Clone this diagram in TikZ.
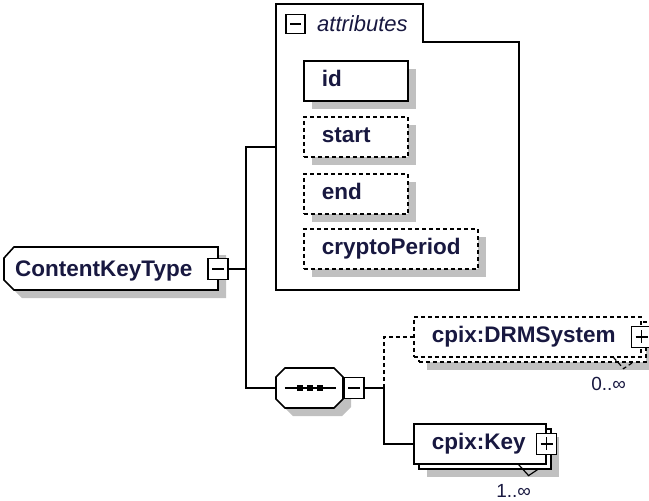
\documentclass[tikz,border=0pt]{standalone}
\usepackage{fontspec}
\setmainfont{Liberation Sans}
\usetikzlibrary{calc,shadows}
\definecolor{labelnavy}{RGB}{24,24,64}
\definecolor{shadowgray}{RGB}{192,192,192}
\def\boxfont{\fontsize{22.5}{25}\selectfont\bfseries}
\def\grpfont{\fontsize{22}{25}\selectfont\itshape}
\def\occfont{\fontsize{19}{21}\selectfont}

\tikzset{
	conn/.style={line width=1.6pt},
	optline/.style={dash pattern=on 4pt off 3pt},
	shadowed/.style={general shadow={draw=none, fill=shadowgray, shadow xshift=8pt, shadow yshift=-8pt}},
	farshadowed/.style={general shadow={draw=none, fill=shadowgray, shadow xshift=13pt, shadow yshift=-13pt}},
	stacked/.style={copy shadow={shadow xshift=5pt, shadow yshift=-5pt}},
	elembox/.style={draw, fill=white, line width=1.6pt, font=\boxfont, text=labelnavy, anchor=north west, inner xsep=18pt, inner ysep=10pt, text height=15.5pt, text depth=4.5pt, align=left, text width=#1},
	togglebox/.style={draw, fill=white, line width=1.4pt, minimum width=20pt, minimum height=21pt, inner sep=0pt},
	minusbox/.style={togglebox, path picture={\draw[line width=1.4pt] ([xshift=4pt]path picture bounding box.west) -- ([xshift=-4pt]path picture bounding box.east);}},
	plusbox/.style={togglebox, path picture={\draw[line width=1.4pt] ([xshift=4pt]path picture bounding box.west) -- ([xshift=-4pt]path picture bounding box.east) ([yshift=-4pt]path picture bounding box.north) -- ([yshift=4pt]path picture bounding box.south);}},
	occurs/.style={font=\occfont, text=labelnavy, inner sep=0pt}
}

\begin{document}
\begin{tikzpicture}[x=1pt,y=-1pt]
	%%%%% START %%%%%
	\useasboundingbox (0,0) rectangle (649,501);

	% root element
	\draw[conn, fill=white, shadowed] (4,258) -- (14,247) -- (218,247) -- (218,290) -- (14,290) -- (4,280) -- cycle;
	\node[font=\boxfont, text=labelnavy, anchor=base west, inner sep=0pt] (ckt) at (15,276) {ContentKeyType};
	\node[minusbox] (ckt-pm) at (218,269) {};

	% attributes group
	\draw[conn] (276,4) -- (423,4) -- (423,42) -- (519,42) -- (519,290) -- (276,290) -- cycle;
	\coordinate (attrs) at (276,147);
	\node[minusbox, minimum width=19pt, minimum height=19pt] (attrs-pm) at (295.5,24) {};
	\node[font=\grpfont, text=labelnavy, anchor=base west, inner sep=0pt] (attrs-lbl) at (317,31) {attributes};

	\node[elembox=68pt, shadowed] (attr-id) at (303,60) {id};
	\node[elembox=68pt, shadowed, optline] (attr-start) at (303,116) {start};
	\node[elembox=68pt, shadowed, optline] (attr-end) at (303,173) {end};
	\node[elembox=138pt, shadowed, optline] (attr-crypto) at (303,228) {cryptoPeriod};

	% sequence
	\draw[conn, fill=white, shadowed] (276,377) -- (285,368) -- (334,368) -- (343,377) -- (343,399) -- (334,408) -- (285,408) -- (276,399) -- cycle;
	\node[minimum width=67pt, minimum height=40pt, inner sep=0pt] (seq) at (309.5,388) {};
	\draw[conn] ([xshift=9pt]seq.west) -- ([xshift=-7pt]seq.east);
	\foreach \dx in {-10,0,10}
		\fill ($(seq.center)+(\dx,0)$) ++(-3,-3) rectangle ++(6,6);
	\node[minusbox] (seq-pm) at (354,388) {};
	\coordinate (fork) at (384,388);

	% child elements
	\node[elembox=191pt, farshadowed, stacked, optline] (drm) at (413,316) {cpix:DRMSystem};
	\node[plusbox] (drm-pm) at (drm.east) {};
	\draw[line width=1.2pt, optline] ($(drm.south east)+(-28,0)$) -- ++(10,11) -- ++(9,-6);
	\node[occurs, anchor=base] (drm-occ) at ($(drm.south east)+(-33,33)$) {0..∞};

	\node[elembox=96pt, farshadowed, stacked] (key) at (413,423) {cpix:Key};
	\node[plusbox] (key-pm) at (key.east) {};
	\draw[line width=1.2pt] ($(key.south east)+(-28,0)$) -- ++(10,11) -- ++(9,-6);
	\node[occurs, anchor=base] (key-occ) at ($(key.south east)+(-33,33)$) {1..∞};

	% connectors
	\coordinate (spine) at (246,269);
	\draw[conn] (ckt-pm.east) -- (spine);
	\draw[conn] (attrs) -| (spine) |- (seq.west);
	\draw[conn] (seq-pm.east) -- (fork);
	\draw[conn, optline] (fork) |- (drm.west);
	\draw[conn] (fork) |- (key.west);

	%%%%% END %%%%%
\end{tikzpicture}
\end{document}
